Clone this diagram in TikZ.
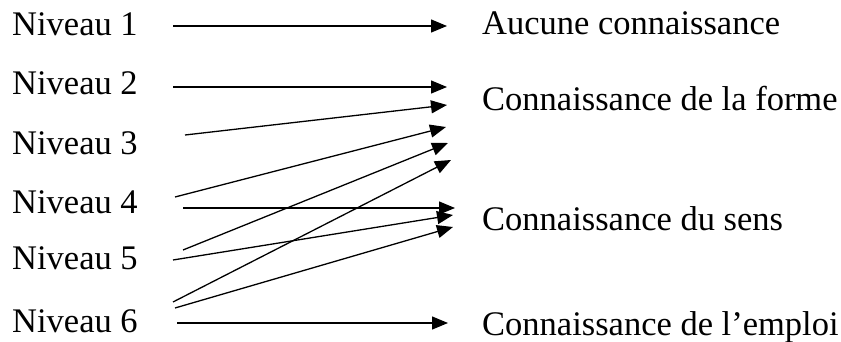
\documentclass[tikz,border=0pt]{standalone}
\usepackage{fontspec}
\setmainfont{Liberation Serif}
\usetikzlibrary{arrows.meta}

\begin{document}
\begin{tikzpicture}[x=1pt,y=-1pt,font=\fontsize{34.5}{40}\selectfont]
    \tikzstyle{niveau} = [anchor=base west,inner sep=0pt]
    \tikzstyle{savoir} = [anchor=base west,inner sep=0pt]
    \tikzstyle{lien} = [-{Triangle[length=16pt,width=13pt]},line width=1.3pt]
      \useasboundingbox (0,0) rectangle (841,342);
      \node[niveau] (n1) at (12,36) {Niveau 1};
      \node[niveau] (n2) at (12,95) {Niveau 2};
      \node[niveau] (n3) at (12,155) {Niveau 3};
      \node[niveau] (n4) at (12,213) {Niveau 4};
      \node[niveau] (n5) at (12,269) {Niveau 5};
      \node[niveau] (n6) at (12,332) {Niveau 6};
      \node[savoir] (aucune) at (482,35) {Aucune connaissance};
      \node[savoir] (forme) at (482,111) {Connaissance de la forme};
      \node[savoir] (sens) at (482,230) {Connaissance du sens};
      \node[savoir] (emploi) at (482,335) {Connaissance de l’emploi};
      % departs
      \coordinate (d1) at (173,26);
      \coordinate (d2) at (173,87);
      \coordinate (d3) at (185,135);
      \coordinate (d4a) at (175,197);
      \coordinate (d4b) at (183,208);
      \coordinate (d5a) at (183,250);
      \coordinate (d5b) at (173,260);
      \coordinate (d6a) at (173,302);
      \coordinate (d6b) at (175,308);
      \coordinate (d6c) at (177,323);
      % pointes
      \coordinate (aucuneP) at (447,26);
      \coordinate (formeA) at (447,87);
      \coordinate (formeB) at (447,105);
      \coordinate (formeC) at (446,127);
      \coordinate (formeD) at (448,143);
      \coordinate (formeE) at (451,160);
      \coordinate (sensA) at (455,208);
      \coordinate (sensB) at (453,215);
      \coordinate (sensC) at (453,227);
      \coordinate (emploiP) at (448,323);
      \foreach \a/\b in {d1/aucuneP,d2/formeA,d3/formeB,d4a/formeC,d5a/formeD,d6a/formeE,d4b/sensA,d5b/sensB,d6b/sensC,d6c/emploiP} \draw[lien] (\a) -- (\b);
  \end{tikzpicture}
\end{document}
